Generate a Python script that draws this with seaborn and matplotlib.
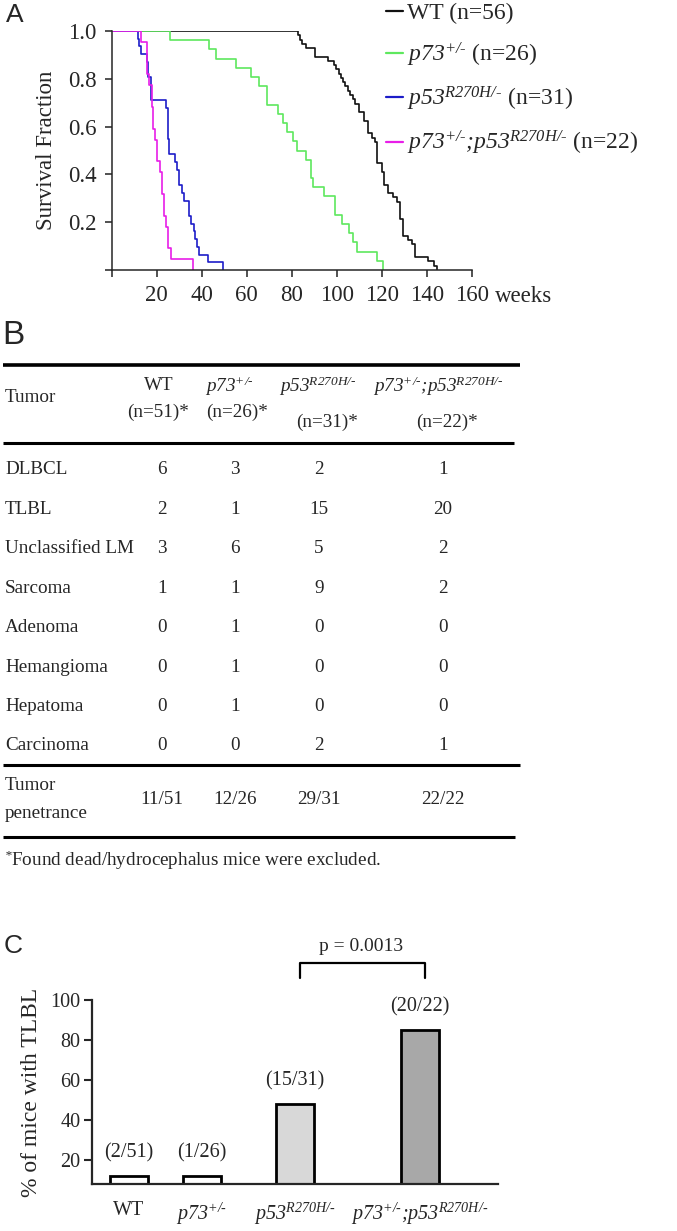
import matplotlib
matplotlib.use("Agg")
import matplotlib.pyplot as plt
import seaborn as sns
import pandas as pd

# ---- data ----
groups = ["WT", "p73", "p53", "dbl"]
group_n = [56, 26, 31, 22]
P73 = r"$p73^{\text{+/-}}$"
P53 = r"$p53^{\text{R270H/-}}$"
DBL = r"$p73^{\text{+/-}}\text{;}p53^{\text{R270H/-}}$"
legend_labels = ["WT (n=56)", P73 + " (n=26)", P53 + " (n=31)", DBL + " (n=22)"]
line_colors = ["#111111", "#5ee85e", "#1c1cc8", "#e81ee8"]

# survival steps: week of drop, mice still alive after the drop
wt_weeks = [82.9, 83.6, 84.5, 86.5, 90.4, 96.3, 98.8, 99.8, 100.8, 101.8, 102.8, 103.8,
            104.8, 106.0, 107.4, 108.3, 110.0, 112.0, 113.8, 115.7, 117.2, 117.8, 120.0,
            121.2, 122.7, 125.2, 126.7, 128.1, 129.6, 131.8, 133.3, 134.8, 140.7, 143.2, 144.7]
wt_alive = [55, 54, 53, 52, 50, 49, 48, 47, 46, 45, 44, 43, 42, 41, 40, 39, 37, 35, 32, 31,
            30, 25, 23, 20, 18, 17, 16, 12, 8, 7, 6, 3, 2, 1, 0]
p73_weeks = [25.9, 43.2, 46.2, 55.2, 61.9, 65.5, 69.2, 74.1, 76.3, 77.8, 80.4, 82.5, 86.4,
             88.4, 89.3, 94.4, 99.4, 102.3, 105.6, 107.2, 108.9, 117.8, 120.7]
p73_alive = [25, 24, 23, 22, 21, 20, 18, 17, 16, 15, 14, 13, 12, 10, 9, 8, 6, 5, 4, 3, 2, 1, 0]
p53_weeks = [11.5, 12.2, 12.8, 15.5, 16.3, 17.4, 24.1, 25.2, 25.6, 28.1, 28.9, 30.0, 31.2,
             32.2, 34.2, 35.4, 36.4, 37.1, 37.8, 39.0, 42.9, 49.3]
p53_alive = [30, 29, 28, 27, 25, 22, 21, 17, 15, 14, 13, 11, 10, 9, 7, 6, 5, 4, 3, 2, 1, 0]
dbl_weeks = [13.2, 15.5, 16.7, 17.7, 18.4, 19.3, 20.3, 21.4, 22.2, 23.4, 24.3, 25.2, 26.2, 36.3]
dbl_alive = [21, 18, 17, 15, 13, 12, 10, 9, 7, 5, 4, 2, 1, 0]

# table (panel B)
tumors = ["DLBCL", "TLBL", "Unclassified LM", "Sarcoma", "Adenoma", "Hemangioma",
          "Hepatoma", "Carcinoma"]
cnt_wt = [6, 2, 3, 1, 0, 0, 0, 0]
cnt_p73 = [3, 1, 6, 1, 1, 1, 1, 0]
cnt_p53 = [2, 15, 5, 9, 0, 0, 0, 2]
cnt_dbl = [1, 20, 2, 2, 0, 0, 0, 1]
col_heads = ["WT", P73, P53, DBL]
col_n = ["(n=51)*", "(n=26)*", "(n=31)*", "(n=22)*"]
penetrance = ["11/51", "12/26", "29/31", "22/22"]

# bar chart (panel C), heights as drawn
bar_labels = ["WT", P73, P53, DBL]
tlbl_pct = [12, 12, 48, 85]
tlbl_frac = ["(2/51)", "(1/26)", "(15/31)", "(20/22)"]
bar_pos = [0, 1, 2.28, 4.0]
bar_colors = ["white", "white", "#d8d8d8", "#a8a8a8"]

# ---- style ----
sns.set_style("ticks")
plt.rcParams["font.family"] = ["Liberation Serif", "DejaVu Serif"]
plt.rcParams["mathtext.fontset"] = "custom"
plt.rcParams["mathtext.rm"] = "Liberation Serif:italic"
plt.rcParams["mathtext.it"] = "Liberation Serif:italic"
plt.rcParams["mathtext.bf"] = "Liberation Serif:bold"

W, H = 677, 1231
fig = plt.figure(figsize=(W / 100, H / 100), dpi=100)

def fx(px):
    return px / W

def fy(py):
    return 1 - py / H

# ---- panel A: survival ----
rows = []
for g, N, wk, al in [("WT", 56, wt_weeks, wt_alive), ("p73", 26, p73_weeks, p73_alive),
                     ("p53", 31, p53_weeks, p53_alive), ("dbl", 22, dbl_weeks, dbl_alive)]:
    rows.append((g, 0.0, 1.0))
    for t, a in zip(wk, al):
        rows.append((g, t, a / N))
surv = pd.DataFrame(rows, columns=["group", "week", "surv"])

axA = fig.add_axes([fx(111.7), fy(270), fx(360), 239 / H])
sns.lineplot(data=surv, x="week", y="surv", hue="group", hue_order=groups,
             palette=line_colors, estimator=None, sort=False, drawstyle="steps-post",
             linewidth=1.2, ax=axA, legend=False)
axA.set_xlim(0, 160)
axA.set_ylim(0, 1.0)
axA.set_xticks(range(0, 161, 20))
axA.set_xticklabels([""] + [str(v) for v in range(20, 161, 20)])
axA.set_yticks([0, 0.2, 0.4, 0.6, 0.8, 1.0])
axA.set_yticklabels(["", "0.2", "0.4", "0.6", "0.8", "1.0"])
axA.tick_params(labelsize=16.5, length=5, width=1.1, pad=6, color="#222222")
axA.set_xlabel("")
axA.set_ylabel("Survival Fraction", fontsize=16.5, labelpad=8)
for s in ["top", "right"]:
    axA.spines[s].set_visible(False)
for s in ["left", "bottom"]:
    axA.spines[s].set_linewidth(1.1)
axA.text((524 - 111.7) / 360, -0.11, "weeks", transform=axA.transAxes,
         ha="center", va="center", fontsize=16.5)

handles = [plt.Line2D([], [], color=c, lw=1.6) for c in line_colors]
fig.legend(handles, legend_labels, loc="upper left", bbox_to_anchor=(fx(386), fy(3)),
           frameon=False, fontsize=17, handlelength=0.7, handletextpad=0.2,
           labelspacing=0.68, borderpad=0, borderaxespad=0)

# ---- panel B: table ----
axB = fig.add_axes([0, 0, 1, 1])
axB.set_xlim(0, W)
axB.set_ylim(H, 0)
axB.axis("off")
axB.patch.set_alpha(0)

fs = 13.8
col_x = [162, 235, 319, 443]
head1_x = [159, 229, 318, 438]
head2_x = [158, 237, 327, 447]
head2_y = [412, 412, 422, 422]
for y, lw, x1 in [(365, 2.6, 520), (443, 2.2, 514), (765, 2.2, 520), (837, 2.2, 515)]:
    axB.plot([3, x1], [y, y], color="black", lw=lw, solid_capstyle="butt")
axB.text(5, 398, "Tumor", fontsize=fs, va="center", ha="left")
for i in range(4):
    axB.text(head1_x[i], 386, col_heads[i], fontsize=fs, ha="center", va="center")
    axB.text(head2_x[i], head2_y[i], col_n[i], fontsize=fs, ha="center", va="center")

row_y0, row_h = 470, 39.4
for r, name in enumerate(tumors):
    y = row_y0 + r * row_h
    axB.text(5, y, name, fontsize=fs, va="center", ha="left")
    for i, col in enumerate([cnt_wt, cnt_p73, cnt_p53, cnt_dbl]):
        axB.text(col_x[i], y, str(col[r]), fontsize=fs, va="center", ha="center")
axB.text(5, 786, "Tumor", fontsize=fs, va="center", ha="left")
axB.text(5, 814, "penetrance", fontsize=fs, va="center", ha="left")
for i in range(4):
    axB.text(col_x[i], 800, penetrance[i], fontsize=fs, va="center", ha="center")
axB.text(4, 860, r"$^{\text{*}}$Found dead/hydrocephalus mice were excluded.", fontsize=fs,
         va="center", ha="left")

# panel letters
for lab, x, y, s in [("A", 15, 15, 19), ("B", 13, 335, 24), ("C", 13, 946, 19)]:
    axB.text(x, y, lab, fontsize=s, family="Liberation Sans", ha="center", va="center")

# ---- panel C: bars ----
axC = fig.add_axes([fx(91.7), fy(1184.3), fx(498 - 91.7), (1184.3 - 1000) / H])
bars = pd.DataFrame({"pos": bar_pos, "pct": tlbl_pct, "geno": groups})
sns.barplot(data=bars, x="pos", y="pct", hue="geno", hue_order=groups, palette=bar_colors,
            native_scale=True, dodge=False, width=0.52, edgecolor="black", linewidth=2,
            legend=False, ax=axC)
axC.set_xlim(-0.513, 5.076)
axC.set_ylim(7.8, 100)
axC.set_yticks([20, 40, 60, 80, 100])
axC.set_xticks(bar_pos)
axC.set_xticklabels(bar_labels)
axC.tick_params(axis="y", labelsize=14.5, length=6, width=1.5, pad=2)
axC.tick_params(axis="x", labelsize=14.5, length=0, pad=12)
axC.set_xlabel("")
axC.set_ylabel("% of mice with TLBL", fontsize=17, labelpad=6)
for s in ["top", "right"]:
    axC.spines[s].set_visible(False)
for s in ["left", "bottom"]:
    axC.spines[s].set_linewidth(1.6)
for x, v, t in zip(bar_pos, tlbl_pct, tlbl_frac):
    axC.text(x, v + 11.5, t, ha="center", va="center", fontsize=14.5, clip_on=False)

# significance bracket
bx0, bx1 = 2.35, 4.07
axC.plot([bx0, bx0, bx1, bx1], [111, 118.3, 118.3, 111], color="black", lw=1.6,
         clip_on=False)
axC.text((bx0 + bx1) / 2 - 0.02, 126.7, "p = 0.0013", ha="center", va="center",
         fontsize=14, clip_on=False)

fig.savefig("out.png", dpi=100)
